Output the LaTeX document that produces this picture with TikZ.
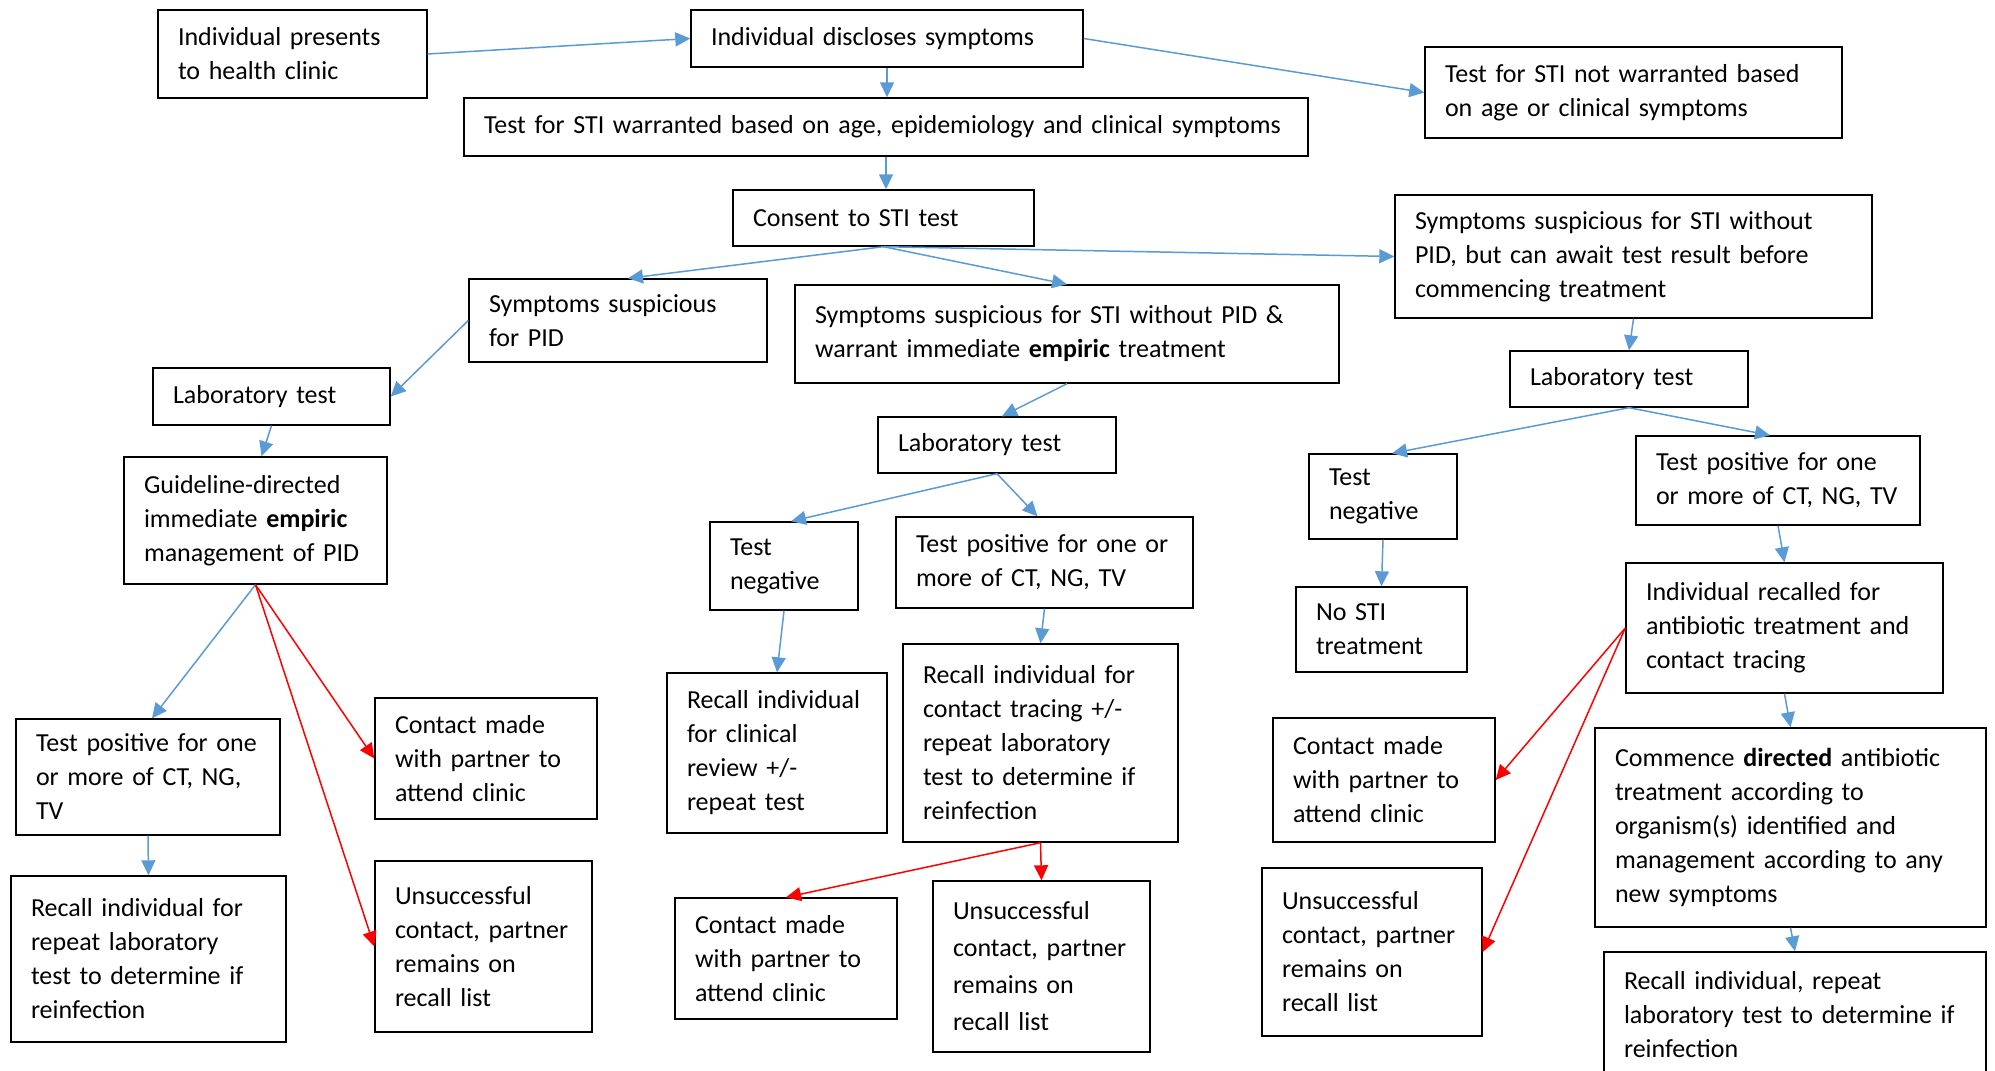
\documentclass[tikz,border=0pt]{standalone}
\usepackage{fontspec}
\setmainfont{Carlito}
\usetikzlibrary{arrows.meta}
\definecolor{flowblue}{RGB}{91,155,213}
\definecolor{flowred}{RGB}{255,0,0}
\tikzset{
  box/.style={draw=black, line width=1.4pt, fill=white, inner xsep=20pt, inner ysep=0pt,
    align=left, font=\fontsize{26}{34}\selectfont},
  flow/.style={draw=flowblue, line width=1.5pt, -{Triangle[length=15pt,width=14pt]}},
  alert/.style={draw=flowred, line width=1.5pt, -{Triangle[length=15pt,width=14pt]}},
}
% \bx[options]{name}{x1}{y1}{x2}{y2}{text}: box spanning the given corners
\newcommand\bx[7][]{%
  \pgfmathsetmacro\bxw{#5-#3-40}%
  \pgfmathsetmacro\bxh{#6-#4}%
  \node[box, text width=\bxw pt, minimum height=\bxh pt, #1] (#2) at ({(#3+#5)/2},{(#4+#6)/2}) {#7};}

\begin{document}
\begin{tikzpicture}[x=1pt, y=-1pt]
\useasboundingbox (0,0) rectangle (1995,1071);
\fill[white] (0,0) rectangle (1995,1071);
\clip (0,0) rectangle (1995,1071);

% top of the pathway
\bx{pres}{158}{10}{427}{98}{Individual presents\\to health clinic}
\bx{disc}{691}{10}{1083}{67}{Individual discloses symptoms}
\bx{notw}{1425}{47}{1842}{138}{Test for STI not warranted based\\on age or clinical symptoms}
\bx{warr}{464}{98}{1308}{156}{Test for STI warranted based on age, epidemiology and clinical symptoms}
\bx{cons}{733}{190}{1034}{246}{Consent to STI test}

% three branches after consent
\bx{await}{1395}{195}{1872}{318}{Symptoms suspicious for STI without\\PID, but can await test result before\\commencing treatment}
\bx{pid}{469}{279}{767}{362}{Symptoms suspicious\\for PID}
\bx{warrimm}{795}{285}{1339}{383}{Symptoms suspicious for STI without PID \&\\warrant immediate \textbf{empiric} treatment}

% laboratory tests
\bx{labL}{153}{368}{390}{425}{Laboratory test}
\bx{labR}{1510}{351}{1748}{407}{Laboratory test}
\bx{labM}{878}{417}{1116}{473}{Laboratory test}

% PID branch
\bx{guide}{124}{457}{387}{584}{Guideline-directed\\immediate \textbf{empiric}\\management of PID}
\bx{tposL}{16}{719}{280}{835}{Test positive for one\\or more of CT, NG,\\TV}
\bx{recL}{11}{876}{286}{1042}{Recall individual for\\repeat laboratory\\test to determine if\\reinfection}
\bx{contL}{375}{698}{597}{819}{Contact made\\with partner to\\attend clinic}
\bx{unsL}{375}{861}{592}{1032}{Unsuccessful\\contact, partner\\remains on\\recall list}

% immediate empiric treatment branch
\bx{tnegM}{710}{522}{858}{610}{Test\\negative}
\bx{tposM}{896}{517}{1193}{608}{Test positive for one or\\more of CT, NG, TV}
\bx{recCl}{667}{673}{887}{833}{Recall individual\\for clinical\\review +/-\\repeat test}
\bx{recCt}{903}{644}{1178}{842}{Recall individual for\\contact tracing +/-\\repeat laboratory\\test to determine if\\reinfection}
\bx{contM}{675}{898}{897}{1019}{Contact made\\with partner to\\attend clinic}
\bx[font=\fontsize{26}{37}\selectfont]{unsM}{933}{881}{1150}{1052}{Unsuccessful\\contact, partner\\remains on\\recall list}

% await-result branch
\bx{tnegR}{1309}{454}{1457}{539}{Test\\negative}
\bx{tposR}{1636}{436}{1920}{525}{Test positive for one\\or more of CT, NG, TV}
\bx{noSTI}{1296}{587}{1467}{672}{No STI\\treatment}
\bx{recalled}{1626}{563}{1943}{693}{Individual recalled for\\antibiotic treatment and\\contact tracing}
\bx{contR}{1273}{718}{1495}{842}{Contact made\\with partner to\\attend clinic}
\bx{unsR}{1262}{868}{1482}{1036}{Unsuccessful\\contact, partner\\remains on\\recall list}
\bx{commence}{1595}{728}{1986}{927}{Commence \textbf{directed} antibiotic\\treatment according to\\organism(s) identified and\\management according to any\\new symptoms}
\bx{recR}{1604}{952}{1986}{1078}{Recall individual, repeat\\laboratory test to determine if\\reinfection}

% connectors
\draw[flow] (pres.east) -- (disc.west);
\draw[flow] (disc.south) -- (disc.south |- warr.north);
\draw[flow] (disc.east) -- (notw.west);
\draw[flow] (warr.south) -- (warr.south |- cons.north);
\draw[flow] (cons.south) -- ([xshift=10pt]pid.north);
\draw[flow] (cons.south) -- (warrimm.north);
\draw[flow] (cons.south) -- (await.west);
\draw[flow] (pid.west) -- (labL.east);
\draw[flow] (labL.south) -- ([xshift=6pt]guide.north);
\draw[flow] (warrimm.south) -- ([xshift=5pt]labM.north);
\draw[flow] (await.south) -- (labR.north);
\draw[flow] (labM.south) -- ([xshift=7pt]tnegM.north);
\draw[flow] (labM.south) -- ([xshift=-7pt]tposM.north);
\draw[flow] (labR.south) -- ([xshift=9pt]tnegR.north);
\draw[flow] (labR.south) -- ([xshift=-8pt]tposR.north);
\draw[flow] (tnegM.south) -- (recCl.north);
\draw[flow] (tposM.south) -- (recCt.north);
\draw[flow] (tnegR.south) -- (noSTI.north);
\draw[flow] (tposR.south) -- (recalled.north);
\draw[flow] (recalled.south) -- (commence.north);
\draw[flow] (commence.south) -- (recR.north);
\draw[flow] (guide.south) -- ([xshift=4pt]tposL.north);
\draw[flow] (tposL.south) -- (recL.north);

\draw[alert] (guide.south) -- (contL.west);
\draw[alert] (guide.south) -- (unsL.west);
\draw[alert] (recCt.south) -- (contM.north);
\draw[alert] (recCt.south) -- (unsM.north);
\draw[alert] (recalled.west) -- (contR.east);
\draw[alert] (recalled.west) -- (unsR.east);
\end{tikzpicture}
\end{document}
